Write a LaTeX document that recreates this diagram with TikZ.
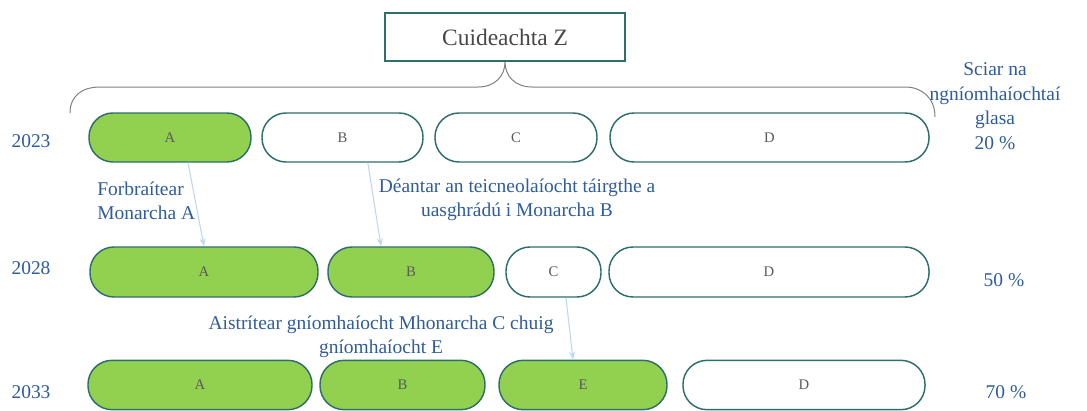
\documentclass[tikz,border=0pt]{standalone}
\usepackage{fontspec}
\setmainfont{Liberation Serif}
\usetikzlibrary{arrows.meta}
\definecolor{grn}{HTML}{92D050}
\definecolor{teal2}{HTML}{2E6E6C}
\definecolor{bluet}{HTML}{2F5C9A}
\definecolor{arr}{HTML}{BDD7EE}
\definecolor{lbl}{HTML}{5A5A5A}
\definecolor{brc}{HTML}{808080}
\begin{document}
\begin{tikzpicture}[x=0.75pt,y=-0.75pt,
  pill/.style={draw=teal2,line width=1.1pt,rounded corners=18pt,inner sep=0pt,
    font=\fontsize{11pt}{13pt}\selectfont,text=lbl},
  gpill/.style={pill,fill=grn},
  wpill/.style={pill,fill=white},
  r1/.style={minimum height=36.75pt},
  r2/.style={minimum height=37.5pt},
  r3/.style={minimum height=37pt},
  btxt/.style={text=bluet,font=\fontsize{14.6pt}{18.4pt}\selectfont,inner sep=0pt},
  conn/.style={draw=arr,line width=0.8pt,-{Stealth[length=6pt,width=4.5pt]}},
  brace/.style={draw=brc,line width=0.75pt}]
\useasboundingbox (0,0) rectangle (1087,410);
% top box
\node[draw=teal2,line width=1.5pt,minimum width=180pt,minimum height=36pt,inner sep=0pt,
  text=black!72,font=\fontsize{17.6pt}{20pt}\selectfont] (cz) at (505,37) {Cuideachta Z};
\draw[brace] (70,113) .. controls (70,96) and (82,87) .. (100,87) -- (478,87)
  .. controls (495,87) and (505,76) .. (cz.south)
  .. controls (505,76) and (515,87) .. (532,87) -- (905,87)
  .. controls (922,87) and (935,98) .. (935,117);
% row 1
\node[gpill,r1,minimum width=121.5pt] (a1) at (170,137.5) {A};
\node[wpill,r1,minimum width=120.75pt] (b1) at (342.5,137.5) {B};
\node[wpill,r1,minimum width=121.5pt] (c1) at (516,137.5) {C};
\node[wpill,r1,minimum width=239.25pt] (d1) at (769.5,137.5) {D};
% row 2
\node[gpill,r2,minimum width=171pt] (a2) at (204,272) {A};
\node[gpill,r2,minimum width=124.5pt] (b2) at (411,272) {B};
\node[wpill,r2,minimum width=71.25pt] (c2) at (553.5,272) {C};
\node[wpill,r2,minimum width=240pt] (d2) at (769,272) {D};
% row 3
\node[gpill,r3,minimum width=168pt] (a3) at (200,385) {A};
\node[gpill,r3,minimum width=123.75pt] (b3) at (402.5,385) {B};
\node[gpill,r3,minimum width=126pt] (e3) at (583,385) {E};
\node[wpill,r3,minimum width=181.5pt] (d3) at (804,385) {D};
% years
\node[btxt] (y1) at (31,141) {2023};
\node[btxt] (y2) at (31,268) {2028};
\node[btxt] (y3) at (31,392) {2033};
% shares
\node[btxt,align=center] (sh) at (995,106) {Sciar na\\ngníomhaíochtaí\\glasa\\20 \%};
\node[btxt] (p2) at (1004,280) {50 \%};
\node[btxt] (p3) at (1006,392) {70 \%};
% annotations
\node[btxt,align=left,anchor=west] (t1) at (97,201) {Forbraítear\\Monarcha A};
\node[btxt,align=center] (t2) at (517,200) {Déantar an teicneolaíocht táirgthe a\\uasghrádú i Monarcha B};
\node[btxt,align=center] (t3) at (381,337) {Aistrítear gníomhaíocht Mhonarcha C chuig\\gníomhaíocht E};
% arrows
\draw[conn] ([xshift=13.5pt]a1.south) -- (a2.north);
\draw[conn] ([xshift=19pt]b1.south) -- ([xshift=-22.5pt]b2.north);
\draw[conn] ([xshift=9.4pt]c2.south) -- ([xshift=-7.5pt]e3.north);
\end{tikzpicture}
\end{document}
